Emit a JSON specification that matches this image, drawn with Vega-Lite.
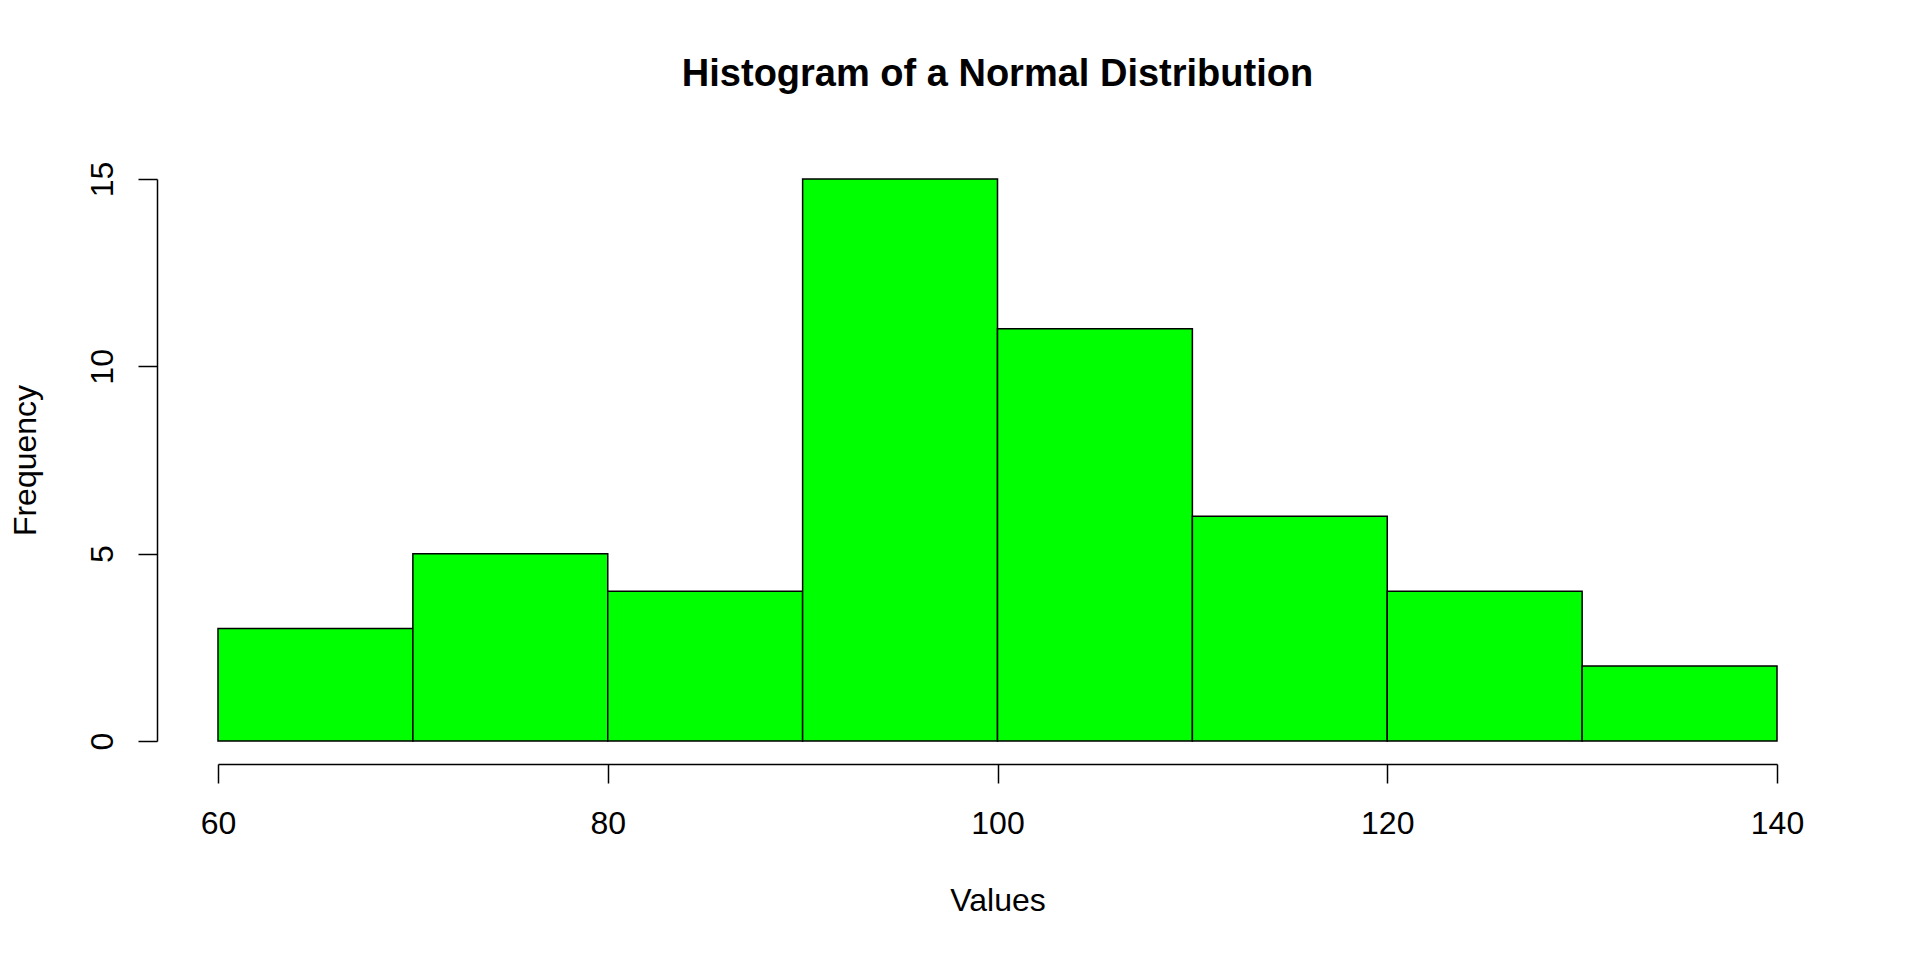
{
  "$schema": "https://vega.github.io/schema/vega-lite/v6.json",
  "width": 1559,
  "height": 562,
  "autosize": "none",
  "padding": {"left": 218, "top": 179, "right": 143, "bottom": 219},
  "background": "white",
  "config": {
    "view": {"stroke": null},
    "font": "Liberation Sans"
  },
  "title": {
    "text": "Histogram of a Normal Distribution",
    "font": "Liberation Sans",
    "fontSize": 38,
    "fontWeight": "bold",
    "color": "black",
    "anchor": "middle",
    "frame": "group",
    "baseline": "alphabetic",
    "offset": 37
  },
  "data": {
    "values": [
      {"bin_start": 60, "bin_end": 70, "count": 3},
      {"bin_start": 70, "bin_end": 80, "count": 5},
      {"bin_start": 80, "bin_end": 90, "count": 4},
      {"bin_start": 90, "bin_end": 100, "count": 15},
      {"bin_start": 100, "bin_end": 110, "count": 11},
      {"bin_start": 110, "bin_end": 120, "count": 6},
      {"bin_start": 120, "bin_end": 130, "count": 4},
      {"bin_start": 130, "bin_end": 140, "count": 2}
    ]
  },
  "mark": {"type": "rect", "fill": "#00FF00", "stroke": "black", "strokeWidth": 1.5},
  "encoding": {
    "x": {
      "field": "bin_start",
      "type": "quantitative",
      "scale": {"domain": [60, 140], "nice": false, "zero": false},
      "axis": {
        "title": "Values",
        "values": [60, 80, 100, 120, 140],
        "offset": 23,
        "grid": false,
        "domainColor": "black",
        "domainWidth": 1.5,
        "tickColor": "black",
        "tickWidth": 1.5,
        "tickSize": 19,
        "labelFont": "Liberation Sans",
        "labelFontSize": 32,
        "labelColor": "black",
        "labelBaseline": "alphabetic",
        "labelPadding": 50,
        "labelFlush": false,
        "labelOverlap": false,
        "titleFont": "Liberation Sans",
        "titleFontSize": 32,
        "titleFontWeight": "normal",
        "titleColor": "black",
        "titleBaseline": "alphabetic",
        "titleY": 146
      }
    },
    "x2": {"field": "bin_end"},
    "y": {
      "field": "count",
      "type": "quantitative",
      "scale": {"domain": [0, 15], "nice": false},
      "axis": {
        "title": "Frequency",
        "values": [0, 5, 10, 15],
        "offset": 61,
        "grid": false,
        "domainColor": "black",
        "domainWidth": 1.5,
        "tickColor": "black",
        "tickWidth": 1.5,
        "tickSize": 19,
        "labelFont": "Liberation Sans",
        "labelFontSize": 32,
        "labelColor": "black",
        "labelAngle": -90,
        "labelAlign": "center",
        "labelBaseline": "alphabetic",
        "labelPadding": 26,
        "labelFlush": false,
        "labelOverlap": false,
        "titleFont": "Liberation Sans",
        "titleFontSize": 32,
        "titleFontWeight": "normal",
        "titleColor": "black",
        "titleAngle": -90,
        "titleBaseline": "alphabetic",
        "titleAlign": "center",
        "titleX": -122,
        "titleY": 281
      }
    },
    "y2": {"datum": 0}
  }
}
